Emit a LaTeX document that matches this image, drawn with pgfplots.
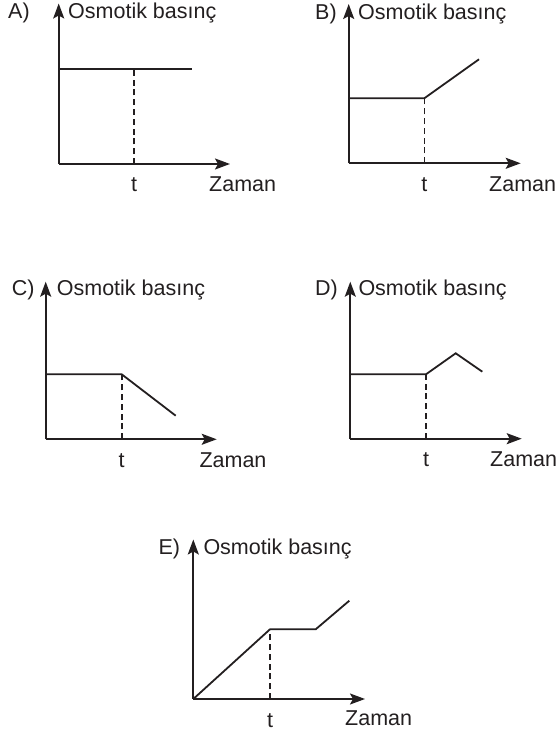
\documentclass[border=0pt]{standalone}
\usepackage{fontspec}
\setmainfont{Liberation Sans}
\usepackage{pgfplots}
\pgfplotsset{compat=1.18}
\usetikzlibrary{arrows.meta}
\definecolor{ink}{HTML}{231F20}

\pgfplotsset{
  panel/.style={
    x=1pt, y=1pt, xmin=0, ymin=0,
    axis lines=left, enlargelimits=false, clip=false,
    anchor=south west,
    axis line style={line width=1.8pt, draw=ink,
      -{Stealth[length=15pt,width=11pt,inset=3pt]}},
    ytick=\empty, major tick length=0pt,
    xticklabels={t},
    every x tick label/.style={anchor=base, inner sep=0pt, yshift=-28pt, text=ink,
      font=\fontsize{21.5}{25}\selectfont},
    every axis title/.style={anchor=base west, inner sep=0pt, text=ink,
      font=\fontsize{21.5}{25}\selectfont},
    every axis x label/.style={anchor=base west, inner sep=0pt, text=ink,
      font=\fontsize{21.5}{25}\selectfont},
    every axis y label/.style={anchor=base west, inner sep=0pt, text=ink,
      font=\fontsize{21.5}{25}\selectfont},
  },
  curve/.style={ink, line width=1.8pt, no marks},
  tline/.style={ink, line width=1.6pt, dash pattern=on 6pt off 3.8pt, no marks},
}

\begin{document}
\begin{tikzpicture}
% A
\begin{axis}[panel, at={(58.7pt,569pt)}, xmax=171.3, ymax=160.5, xtick={75.3},
  title={A)}, title style={at={(axis cs:-50.7,145)}},
  xlabel={Zaman}, xlabel style={at={(axis cs:150.3,-28)}},
  ylabel={Osmotik basınç}, ylabel style={at={(axis cs:9.3,145)}}]
\addplot[curve] coordinates {(0,95) (133.3,95)};
\addplot[tline] coordinates {(75.3,0) (75.3,95)};
\end{axis}
% B
\begin{axis}[panel, at={(348.7pt,569.7pt)}, xmax=172, ymax=159.3, xtick={75.6},
  title={B)}, title style={at={(axis cs:-33.7,143.3)}},
  xlabel={Zaman}, xlabel style={at={(axis cs:140.3,-28)}},
  ylabel={Osmotik basınç}, ylabel style={at={(axis cs:9.3,143.3)}}]
\addplot[curve] coordinates {(0,65) (75.6,65) (130.3,104)};
\addplot[tline] coordinates {(75.6,0) (75.6,65)};
\end{axis}
% C
\begin{axis}[panel, at={(45.7pt,293.7pt)}, xmax=171, ymax=157.6, xtick={76},
  title={C)}, title style={at={(axis cs:-34,143.3)}},
  xlabel={Zaman}, xlabel style={at={(axis cs:153.6,-28)}},
  ylabel={Osmotik basınç}, ylabel style={at={(axis cs:11,143.3)}}]
\addplot[curve] coordinates {(0,65) (76,65) (130,23.6)};
\addplot[tline] coordinates {(76,0) (76,65)};
\end{axis}
% D
\begin{axis}[panel, at={(350.3pt,294.3pt)}, xmax=171.4, ymax=157, xtick={75.7},
  title={D)}, title style={at={(axis cs:-35.3,143)}},
  xlabel={Zaman}, xlabel style={at={(axis cs:139.7,-28)}},
  ylabel={Osmotik basınç}, ylabel style={at={(axis cs:8,143)}}]
\addplot[curve] coordinates {(0,64.4) (75.7,64.4) (105.4,85.4) (132,67)};
\addplot[tline] coordinates {(75.7,0) (75.7,64.4)};
\end{axis}
% E
\begin{axis}[panel, at={(193.3pt,34pt)}, xmax=171.7, ymax=159.5, xtick={76.7},
  title={E)}, title style={at={(axis cs:-35,144)}},
  xlabel={Zaman}, xlabel style={at={(axis cs:151.7,-26)}},
  ylabel={Osmotik basınç}, ylabel style={at={(axis cs:10,144)}}]
\addplot[curve] coordinates {(0,0) (76.7,69.7) (122.4,69.7) (156,98.3)};
\addplot[tline] coordinates {(76.7,0) (76.7,69.7)};
\end{axis}
\pgfresetboundingbox
\useasboundingbox (0,0) rectangle (556pt,733pt);
\end{tikzpicture}
\end{document}
